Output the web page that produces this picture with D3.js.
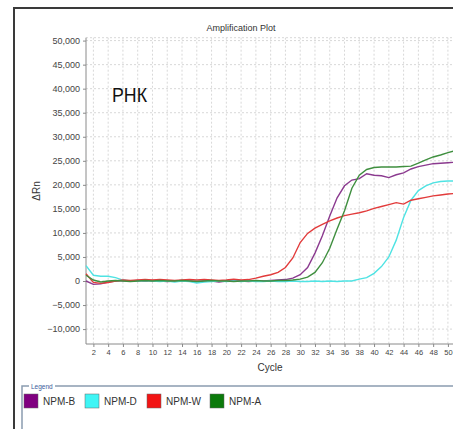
<!DOCTYPE html>
<html>
<head>
<meta charset="utf-8">
<script src="https://cdn.jsdelivr.net/npm/d3@7"></script>
<style>
  body { margin: 0; background: #fff; }
  svg { display: block; font-family: "Liberation Sans", Arial, sans-serif; }
  .grid line { stroke: #d8d8d8; stroke-dasharray: 2,2; }
  .axis path, .axis line { stroke: #8a8a8a; }
  .axis text { fill: #444; }
</style>
</head>
<body>
<svg id="amp" width="453" height="429"></svg>
<script>
var cycles = d3.range(1, 52);

var npmB = [0, -700, -600, -200, 0, 100, 0, 100, 0, 100, 0, -100, 0, 100, 0, -100, 0, 0, -200, 0,
  100, 0, -100, 0, 0, 100, 200, 300, 600, 1300, 2800, 5800, 9400, 13500, 17300, 19800, 21000, 21300, 22300, 22000,
  21900, 21500, 22100, 22500, 23300, 23800, 24100, 24400, 24500, 24600, 24700];
var npmD = [3200, 1200, 1000, 1000, 700, 200, 0, 0, 100, 0, -100, 0, -200, 0, -100, -400, -200, -100, 0, -100,
  0, -100, 0, -100, -100, 0, -100, -100, 0, -100, -100, 0, -100, 0, -100, 0, 0, 400, 700, 1600,
  3000, 5000, 8500, 13200, 16800, 18800, 19800, 20400, 20700, 20800, 20800];
var npmW = [1500, -300, -500, -300, 0, 200, 100, 200, 300, 200, 300, 200, 100, 200, 300, 200, 300, 200, 100, 200,
  400, 200, 300, 600, 1000, 1300, 1800, 2800, 4800, 8000, 9900, 11000, 11800, 12500, 13100, 13600, 13900, 14200, 14600, 15100,
  15500, 15900, 16300, 16000, 16800, 17100, 17400, 17700, 17900, 18100, 18200];
var npmA = [1200, 200, -200, 0, 100, 0, -100, 0, 100, 0, 100, 0, 0, 100, 0, -100, 0, 100, 0, 0,
  -100, 0, 0, 100, 0, 0, 100, 100, 200, 400, 800, 1800, 3800, 6800, 10800, 14600, 19300, 22000, 23200, 23600,
  23700, 23700, 23700, 23800, 23900, 24500, 25200, 25800, 26200, 26700, 27100];

var seriesNames = ["NPM-B", "NPM-D", "NPM-W", "NPM-A"];
var seriesValues = [npmB, npmD, npmW, npmA];
var lineColors = ["#8b3a8f", "#4fe3e3", "#e23b3b", "#3f8f3f"];
var swatchColors = ["#800080", "#3ff5f5", "#f21414", "#0b7a0b"];

var yTicks = d3.range(-10000, 50001, 5000);
var xTicks = d3.range(2, 51, 2);

var svg = d3.select("#amp"),
  plotLeft = 86, plotRight = 459, plotTop = 37.7, plotBottom = 344;

var x = d3.scaleLinear().domain([1, 51.5]).range([plotLeft, plotRight]),
  y = d3.scaleLinear().domain([-13100, 50600]).range([plotBottom, plotTop]);

// outer frame
svg.append("path")
  .attr("d", "M14,429V8H460")
  .attr("fill", "none")
  .attr("stroke", "#3a3a3a")
  .attr("stroke-width", 2);

svg.append("text")
  .attr("x", 241)
  .attr("y", 31)
  .attr("text-anchor", "middle")
  .attr("font-size", "9px")
  .attr("fill", "#333")
  .text("Amplification Plot");

// grid
var grid = svg.append("g").attr("class", "grid");
grid.selectAll(".gx")
  .data(xTicks)
  .enter().append("line")
  .attr("x1", function (d) { return x(d); })
  .attr("x2", function (d) { return x(d); })
  .attr("y1", plotTop)
  .attr("y2", plotBottom);
grid.selectAll(".gy")
  .data(yTicks.concat([50600]))
  .enter().append("line")
  .attr("x1", plotLeft)
  .attr("x2", plotRight)
  .attr("y1", function (d) { return y(d); })
  .attr("y2", function (d) { return y(d); });

// axes
svg.append("g")
  .attr("class", "axis axis--y")
  .attr("transform", "translate(" + plotLeft + ",0)")
  .call(d3.axisLeft(y).tickValues(yTicks).tickSize(3).tickPadding(3).tickFormat(d3.format(",")))
  .call(function (g) { g.selectAll("text").attr("font-size", "9px"); })
  .call(function (g) { g.select(".domain").attr("d", "M0," + plotTop + "V" + plotBottom); });

svg.append("g")
  .attr("class", "axis axis--x")
  .attr("transform", "translate(0," + plotBottom + ")")
  .call(d3.axisBottom(x).tickValues(xTicks).tickSize(3).tickPadding(3))
  .call(function (g) { g.selectAll("text").attr("font-size", "7.5px"); })
  .call(function (g) { g.select(".domain").attr("d", "M" + plotLeft + ",0H" + plotRight); });

svg.append("text")
  .attr("x", 270)
  .attr("y", 371)
  .attr("text-anchor", "middle")
  .attr("font-size", "10px")
  .attr("fill", "#333")
  .text("Cycle");

svg.append("text")
  .attr("transform", "translate(40,191) rotate(-90)")
  .attr("text-anchor", "middle")
  .attr("font-size", "10px")
  .attr("fill", "#333")
  .text("ΔRn");

svg.append("text")
  .attr("x", 112)
  .attr("y", 102)
  .attr("font-size", "20px")
  .attr("textLength", 35)
  .attr("lengthAdjust", "spacingAndGlyphs")
  .attr("fill", "#111")
  .text("РНК");

// curves
var line = d3.line()
  .x(function (d, i) { return x(cycles[i]); })
  .y(function (d) { return y(d); });

svg.append("g")
  .selectAll("path")
  .data(seriesValues)
  .enter().append("path")
  .attr("fill", "none")
  .attr("stroke", function (d, i) { return lineColors[i]; })
  .attr("stroke-width", 1.4)
  .attr("d", line);

// legend box
svg.append("path")
  .attr("d", "M22,429V386H29M55,386H460")
  .attr("fill", "none")
  .attr("stroke", "#8a9cb0")
  .attr("stroke-width", 1.5);

svg.append("text")
  .attr("x", 31)
  .attr("y", 388.5)
  .attr("font-size", "6.5px")
  .attr("fill", "#3a5a9a")
  .text("Legend");

var legendX = [24, 85, 147, 210];
var legend = svg.append("g")
  .selectAll("g")
  .data(seriesNames)
  .enter().append("g")
  .attr("transform", function (d, i) { return "translate(" + legendX[i] + ",394)"; });

legend.append("rect")
  .attr("width", 14)
  .attr("height", 14)
  .attr("fill", function (d, i) { return swatchColors[i]; })
  .attr("stroke", "#666")
  .attr("stroke-width", 0.5);

legend.append("text")
  .attr("x", 19)
  .attr("y", 11)
  .attr("font-size", "10px")
  .attr("fill", "#333")
  .text(function (d) { return d; });
</script>
</body>
</html>
